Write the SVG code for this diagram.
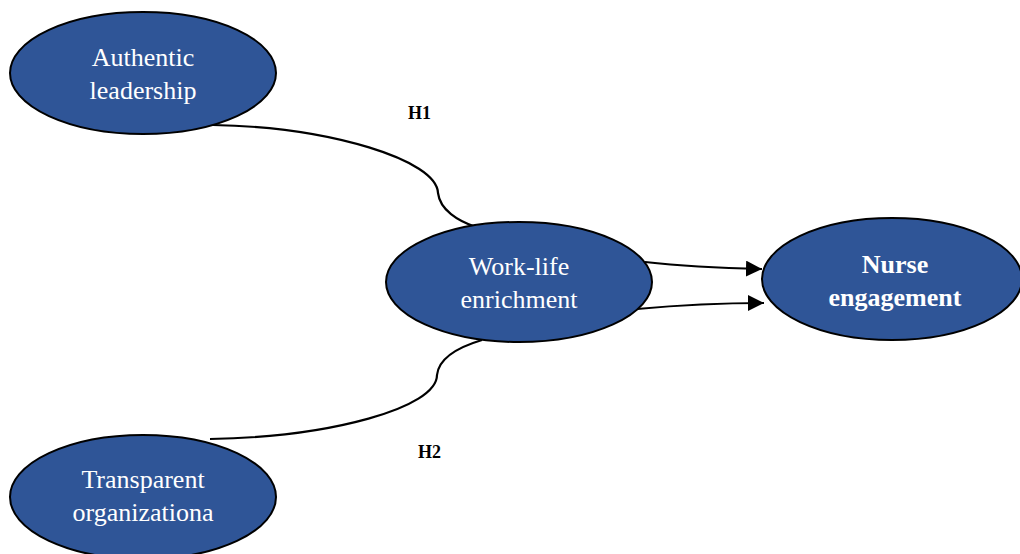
<svg xmlns="http://www.w3.org/2000/svg" width="1020" height="554" viewBox="0 0 1020 554">
<defs>
<style>
.node{fill:#2F5597;stroke:#000;stroke-width:2}
.lbl{font-size:26px;fill:#fff;text-anchor:middle}
.bold{font-weight:bold}
.conn{fill:none;stroke:#000;stroke-width:2.2}
.h{font-size:18px;font-weight:bold;fill:#000}
</style>
<marker id="arr" markerUnits="userSpaceOnUse" markerWidth="18" markerHeight="16" refX="16" refY="8" orient="auto">
<path d="M0,0 L16,8 L0,16 Z" fill="#000"/>
</marker>
</defs>
<rect width="1020" height="554" fill="#fff"/>
<g id="connectors" font-family="'Liberation Serif', 'DejaVu Serif', serif">
<path class="conn" d="M213,125 C330,127 437,160 438,193 C440,210 458,221 476,227"/>
<path class="conn" d="M210,439 C330,437 437,408 437,375 C439,356 462,346 482,340"/>
<path class="conn" d="M645,262 C690,267 720,268 762,269" marker-end="url(#arr)"/>
<path class="conn" d="M637,309 C680,305 720,303 764,303" marker-end="url(#arr)"/>
<text class="h" x="408" y="119">H1</text>
<text class="h" x="418" y="458">H2</text>
</g>
<g id="authentic" font-family="'Liberation Serif', 'DejaVu Serif', serif">
<ellipse class="node" cx="143" cy="73" rx="133" ry="61"/>
<text class="lbl" x="143" y="66">Authentic</text>
<text class="lbl" x="143" y="99">leadership</text>
</g>
<g id="transparent" font-family="'Liberation Serif', 'DejaVu Serif', serif">
<ellipse class="node" cx="143" cy="497" rx="133" ry="62"/>
<text class="lbl" x="143" y="488">Transparent</text>
<text class="lbl" x="143" y="521">organizationa</text>
</g>
<g id="worklife" font-family="'Liberation Serif', 'DejaVu Serif', serif">
<ellipse class="node" cx="519" cy="282" rx="133" ry="60"/>
<text class="lbl" x="519" y="275">Work-life</text>
<text class="lbl" x="519" y="308">enrichment</text>
</g>
<g id="nurse" font-family="'Liberation Serif', 'DejaVu Serif', serif">
<ellipse class="node" cx="892" cy="279" rx="130" ry="61"/>
<text class="lbl bold" x="895" y="273">Nurse</text>
<text class="lbl bold" x="895" y="306">engagement</text>
</g>
</svg>
